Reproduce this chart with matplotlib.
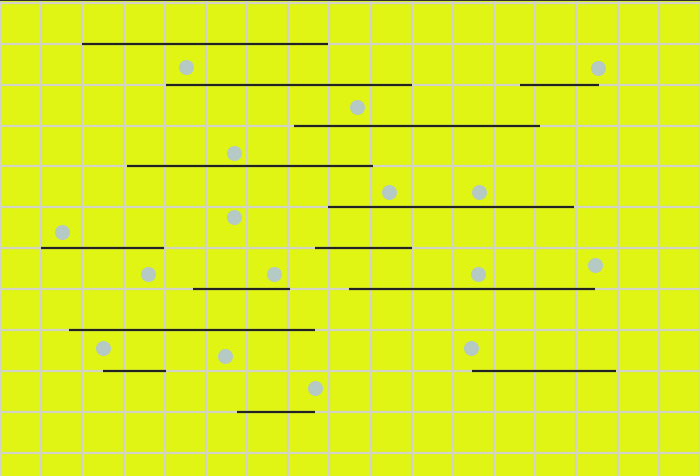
import matplotlib
matplotlib.use("Agg")
import matplotlib.pyplot as plt
import numpy as np

# horizontal segments: row level, start, end
seg_y = [10, 9, 9, 8, 7, 6, 5, 5, 4, 4, 3, 2, 2, 1]
seg_start = [2.0, 4.03, 12.63, 7.14, 3.09, 7.97, 1.0, 7.66, 4.69, 8.47, 1.68, 2.51, 11.46, 5.75]
seg_end = [7.96, 10.0, 14.55, 13.11, 9.05, 13.94, 3.98, 10.0, 7.04, 14.44, 7.66, 4.03, 14.95, 7.66]

# grey dots
dot_x = [4.52, 14.52, 8.68, 5.69, 9.44, 11.63, 5.69, 1.51, 3.59, 6.65, 11.61, 14.44, 2.49, 5.46, 11.45, 7.66]
dot_y = [9.42, 9.41, 8.46, 7.33, 6.37, 6.37, 5.76, 5.40, 4.38, 4.38, 4.38, 4.60, 2.55, 2.37, 2.55, 1.57]

fig = plt.figure(figsize=(7, 4.76), dpi=100)
fig.patch.set_facecolor('#e0f514')
ax = fig.add_axes([0, 0, 1, 1])
ax.set_facecolor('#e0f514')

ax.hlines(seg_y, seg_start, seg_end, colors='#222222', linewidth=1.6, zorder=3)
ax.plot(dot_x, dot_y, 'o', color='#b5c9c5', markersize=10.8, markeredgewidth=0, zorder=4)

ax.set_xlim(0, 17)
ax.set_ylim(-0.57, 11.07)
ax.set_xticks(np.arange(0, 18))
ax.set_yticks(np.arange(0, 12))
ax.grid(True, color='#d2d2c6', linewidth=1.6, zorder=0)
ax.set_axisbelow(True)
ax.tick_params(length=0, labelbottom=False, labelleft=False)
for side in ['left', 'right', 'bottom']:
    ax.spines[side].set_visible(False)
ax.spines['top'].set_color('#333333')
ax.spines['top'].set_linewidth(1.5)

fig.savefig('out.png', dpi=100, facecolor=fig.get_facecolor())
